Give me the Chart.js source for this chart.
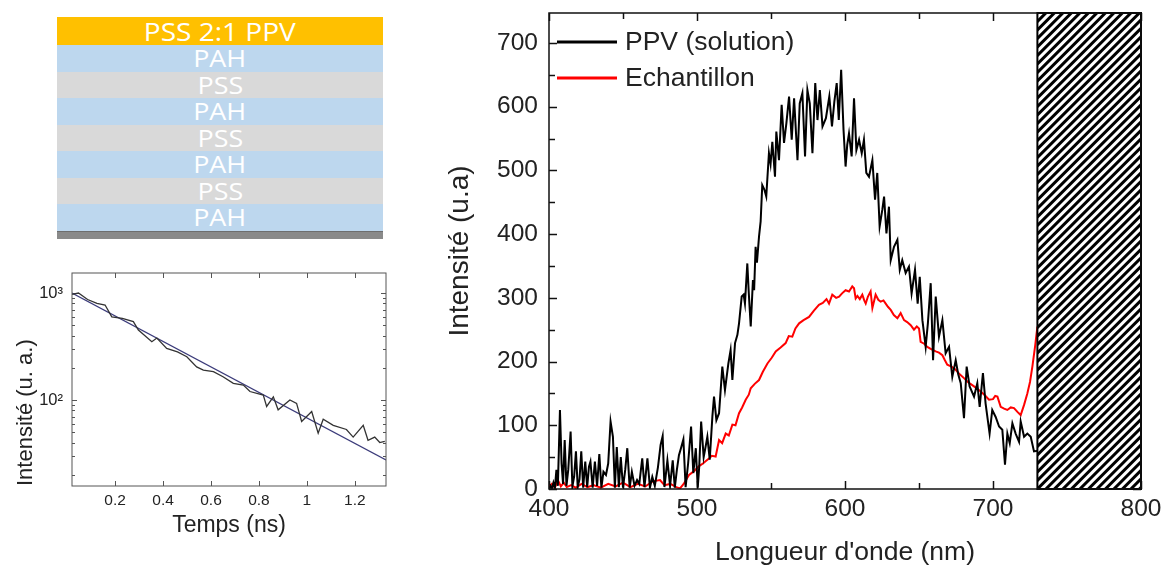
<!DOCTYPE html>
<html>
<head>
<meta charset="utf-8">
<script src="https://cdn.jsdelivr.net/npm/chart.js@4/dist/chart.umd.min.js"></script>
<style>
html,body{margin:0;padding:0;background:#fff;width:1165px;height:569px;overflow:hidden;}
#main{position:absolute;left:400px;top:0;}
#decay{position:absolute;left:0;top:255px;}
#stack{position:absolute;left:57px;top:17px;width:326px;}
.layer{height:26.5px;line-height:26.5px;text-align:center;color:#fff;font-family:"Open Sans",sans-serif;font-size:24px;overflow:visible;}
.layer span{display:inline-block;transform:scaleX(1.12);}
.l-top{background:#FFC000;height:28px;line-height:28px;font-size:25px;}
.l-pah{background:#BDD7EE;}
.l-pss{background:#D9D9D9;}
.l-base{height:7px;background:#8a8a8a;border-top:1px solid #6e6e6e;}
</style>
</head>
<body>
<div id="stack"></div>
<canvas id="decay" width="400" height="314"></canvas>
<canvas id="main" width="765" height="569"></canvas>
<script>
// ---------- Layer stack ----------
const layerNames = ['PSS 2:1 PPV','PAH','PSS','PAH','PSS','PAH','PSS','PAH'];

// ---------- Main spectrum data ----------
const ppvWl = [400,401,402,403,404,405,406,407.4,408.5,409.5,410.6,411.8,413,414.6,415.8,417,418.2,419.4,420.6,421.8,423.1,424.5,425.8,427,428,429.5,431,432.5,434,435.4,436.8,438.5,440,441.6,443.2,444.5,445.8,447.2,448.5,450,451.5,452.9,454.5,456,457.8,459.5,461,463,464.5,466.5,468.2,469.8,471.5,473.6,475.4,476.8,478,480,481.8,483.6,485,486.4,487.8,489.4,490.8,492.3,494,496,497.5,499.2,500.5,501.5,502.8,504.5,505.4,507,508.6,510.4,511.5,513.1,514.9,517.1,518.9,521.2,522.7,523.9,525.7,527.3,528.4,530.2,531.5,532.4,534,535,536.3,537.8,538.6,539.6,540.5,541.9,543,544.1,545.5,546.8,548.6,549.7,550.9,552.7,553.6,555.4,557.2,558.8,560.4,562.2,564,565.6,567.9,569.4,571.2,573,574.6,576.2,578,579.9,581.4,583,584.8,587.1,589.4,591.2,592.8,594.4,595.8,597.4,599,600.4,601.5,602.7,604.5,606.1,607.7,609.5,611.3,612.8,614.4,616.2,618.5,620.3,621.8,623.4,625.2,626.4,628,629.7,630.9,633.1,635.4,637,638.7,641,643.2,645,647.3,649.1,650.5,652.3,654.5,656,657.9,659.5,661.3,663.5,665.8,668,670.3,672.5,674.8,676.5,678.2,680.4,682.2,684.2,687.2,689.4,691,693.2,695,697.7,699.5,701.8,704.1,706.3,708.1,709.7,711.3,713.1,715.3,717.6,718.7,721,723.2,725.5,727.7,730];
const ppvInt = [0,5,0,10,2,30,5,124,40,8,77,5,30,90,4,20,59,3,15,59,2,43,3,35,43,2,43,5,55,2,27,22,40,106,82,2,66,3,50,2,30,64,2,27,5,14,8,48,3,48,2,19,5,34,69,83,3,45,5,45,2,30,53,66,78,3,40,98,25,64,2,35,106,50,61,82,46,114,145,108,119,192,155,197,218,171,229,242,260,302,305,291,354,307,255,328,312,380,355,396,420,477,470,459,527,510,545,490,561,516,603,543,574,616,548,613,516,605,621,522,626,605,527,637,579,626,569,582,616,569,608,637,579,658,564,506,540,558,522,613,532,548,527,548,496,490,516,454,496,412,438,459,401,443,359,380,391,344,359,339,349,307,344,291,333,265,223,260,323,202,302,239,265,213,223,176,202,180,166,111,192,161,145,166,129,182,134,87,124,113,98,93,38,87,72,103,87,74,106,82,87,82,59,60];

const echWl = [400,402,404,406,408,410,412,415,418,422,426,430,435,440,445,450,455,460,465,470,475,478,482,486,488.5,491,494.6,498,501.4,504,506,508.1,510,512.6,514.9,517,519.4,521.5,523.9,526,528.4,530.5,532.9,535,536.3,539,541.9,544.5,547.6,550.5,553.2,556.5,559.9,562,564.4,566.5,569,572,575.7,579,582.4,585,587.5,589.2,591.4,594,596,598,600.4,602.7,604.9,606.1,607.2,608.4,610,611.7,613,614,615.5,617.3,618.5,620.7,622.5,624.1,626,627.5,629,630.9,633,635.4,637.6,639.9,642,644.4,646.6,648.5,650,651.1,653.5,655.6,658.5,661.3,663.5,665.8,667.5,669.1,672,674.8,677.5,680.4,683,686,689,691.7,694.5,697.3,700,701.5,703,705.2,707.5,709.7,712,714.2,716.5,718.7,721,723.2,725,726.6,728.5,730];
const echInt = [3,8,2,14,4,10,3,6,2,8,3,6,2,8,4,10,3,8,4,12,14,6,8,3,1,8,22,28,36,40,44,48,52,51,77,72,87,84,101,100,119,128,140,148,158,165,171,184,197,206,216,222,229,240,239,252,260,265,270,280,289,292,298,291,305,300,302,307,312,310,318,315,299,303,298,305,296,291,302,310,284,305,297,294,296,291,286,281,273,268,276,265,262,257,250,255,252,231,228,223,219,216,214,210,202,195,192,187,180,174,168,163,158,153,147,140,141,146,145,129,126,124,128,127,121,116,132,150,168,192,225,255];

const mainXTicks = [400,450,500,550,600,650,700,750,800];
const mainYTicks = [0,50,100,150,200,250,300,350,400,450,500,550,600,650,700];
const hatchRange = [730,800];

// ---------- Decay (inset) data ----------
const decayT = [0.019,0.047,0.085,0.124,0.158,0.186,0.23,0.276,0.297,0.353,0.374,0.415,0.46,0.499,0.54,0.568,0.61,0.65,0.693,0.735,0.7625,0.818,0.832,0.86,0.88,0.929,0.957,0.978,1.02,1.047,1.068,1.11,1.165,1.193,1.235,1.255,1.283,1.304,1.325];
const decayI = [970,1000,870,800,773,600,580,540,451,351,380,304,282,254,204,190,184,165,143,138,120,111,87,107,81,100,93,63,78,49,66,58,53,45,58,42,45,40,41];
const fitT = [0.02,1.33];
const fitI = [1000,27.5];
const decayXTicks = [0.2,0.4,0.6,0.8,1,1.2];
const decayYTicks = [20,30,40,50,60,70,80,90,100,200,300,400,500,600,700,800,900,1000];

// ---------- build layer stack ----------
const stack = document.getElementById('stack');
layerNames.forEach((n,i)=>{
  const d = document.createElement('div');
  d.className = 'layer ' + (i===0 ? 'l-top' : (n==='PAH' ? 'l-pah' : 'l-pss'));
  const s = document.createElement('span'); s.textContent = n; d.appendChild(s);
  stack.appendChild(d);
});
const base = document.createElement('div'); base.className='l-base'; stack.appendChild(base);

// ---------- plugins ----------
function seg(ctx,x1,y1,x2,y2){ctx.beginPath();ctx.moveTo(x1,y1);ctx.lineTo(x2,y2);ctx.stroke();}
function noPad(s){s.paddingTop=0;s.paddingBottom=0;s.paddingLeft=0;s.paddingRight=0;}
const inTicks = {
  id:'inTicks',
  beforeDatasetsDraw(chart,args,o){
    const {ctx,chartArea:a} = chart; const xs=chart.scales.x, ys=chart.scales.y;
    ctx.save(); ctx.strokeStyle=o.color; ctx.lineWidth=o.width;
    xs.ticks.forEach(t=>{const p=Math.round(xs.getPixelForValue(t.value))+0.5; const L=t.label!==''?o.major:o.minor;
      seg(ctx,p,a.bottom,p,a.bottom-L); seg(ctx,p,a.top,p,a.top+L);});
    ys.ticks.forEach(t=>{const p=Math.round(ys.getPixelForValue(t.value))+0.5; const L=t.label!==''?o.major:o.minor;
      seg(ctx,a.left,p,a.left+L,p); seg(ctx,a.right,p,a.right-L,p);});
    ctx.restore();
  },
  afterDraw(chart,args,o){
    const {ctx,chartArea:a} = chart;
    ctx.save(); ctx.strokeStyle=o.color; ctx.lineWidth=o.width;
    ctx.strokeRect(a.left,a.top,a.right-a.left,a.bottom-a.top); ctx.restore();
  }
};
const hatch = {
  id:'hatch',
  afterDatasetsDraw(chart,args,o){
    if(!o.range) return;
    const {ctx,chartArea:a} = chart; const xs=chart.scales.x;
    const x1=xs.getPixelForValue(o.range[0]), x2=xs.getPixelForValue(o.range[1]);
    const H=a.bottom-a.top;
    ctx.save();
    ctx.fillStyle='#fff'; ctx.fillRect(x1,a.top,x2-x1,H);
    ctx.beginPath(); ctx.rect(x1,a.top,x2-x1,H); ctx.clip();
    ctx.strokeStyle='#000'; ctx.lineWidth=3;
    for(let x=x1-H; x<x2+10; x+=8.5){ seg(ctx,x,a.bottom,x+H,a.top); }
    ctx.restore();
    ctx.save(); ctx.strokeStyle='#000'; ctx.lineWidth=2;
    ctx.strokeRect(x1,a.top,x2-x1,H); ctx.restore();
  }
};
const inLegend = {
  id:'inLegend',
  afterDraw(chart,args,o){
    if(!o.show) return;
    const {ctx} = chart;
    ctx.save(); ctx.font=o.font; ctx.textBaseline='middle'; ctx.fillStyle=o.textColor;
    chart.data.datasets.forEach((ds,i)=>{
      const y=o.y0+i*o.dy;
      ctx.strokeStyle=ds.borderColor; ctx.lineWidth=3; seg(ctx,o.x0,y,o.x0+o.len,y);
      ctx.fillText(ds.label,o.x0+o.len+o.gap,y+1);
    });
    ctx.restore();
  }
};

const SANS = '"Liberation Sans", Arial, sans-serif';

// ---------- main chart ----------
new Chart(document.getElementById('main'),{
  type:'line',
  data:{datasets:[
    {label:'PPV (solution)',data:ppvWl.map((x,i)=>({x,y:ppvInt[i]})),borderColor:'#000',borderWidth:2,pointRadius:0,tension:0},
    {label:'Echantillon',data:echWl.map((x,i)=>({x,y:echInt[i]})),borderColor:'#ff0000',borderWidth:2,pointRadius:0,tension:0}
  ]},
  options:{
    responsive:false,animation:false,events:[],
    layout:{padding:{left:0,top:13,right:24,bottom:0}},
    plugins:{legend:{display:false},tooltip:{enabled:false},
      inTicks:{color:'#111',width:1.5,major:8,minor:6},
      hatch:{range:hatchRange},
      inLegend:{show:true,x0:157,y0:42,dy:36,len:60,gap:8,font:'26.5px '+SANS,textColor:'#222'}},
    scales:{
      x:{type:'linear',min:400,max:800,
        afterBuildTicks:s=>{s.ticks=mainXTicks.map(v=>({value:v}));},
        afterFit:s=>{s.height=80;noPad(s);},
        ticks:{autoSkip:false,maxRotation:0,padding:6,color:'#222',font:{family:SANS,size:24.5},callback:v=>v%100===0?String(v):''},
        grid:{display:false,drawTicks:false},border:{display:false},
        title:{display:true,text:"Longueur d'onde (nm)",color:'#222',font:{family:SANS,size:26.5},padding:{top:0,bottom:0}}},
      y:{type:'linear',min:0,max:747,
        afterBuildTicks:s=>{s.ticks=mainYTicks.map(v=>({value:v}));},
        afterFit:s=>{s.width=149;noPad(s);},
        ticks:{autoSkip:false,padding:11,color:'#222',font:{family:SANS,size:24.5},callback:v=>v%100===0?String(v):''},
        grid:{display:false,drawTicks:false},border:{display:false},
        title:{display:true,text:'Intensité (u.a)',color:'#222',font:{family:SANS,size:28},padding:{top:43,bottom:0}}}
    }
  },
  plugins:[inTicks,hatch,inLegend]
});

// ---------- decay inset ----------
new Chart(document.getElementById('decay'),{
  type:'line',
  data:{datasets:[
    {label:'mesure',data:decayT.map((x,i)=>({x,y:decayI[i]})),borderColor:'#333',borderWidth:1.3,pointRadius:0,tension:0},
    {label:'ajustement',data:fitT.map((x,i)=>({x,y:fitI[i]})),borderColor:'#3b3b7a',borderWidth:1.3,pointRadius:0,tension:0}
  ]},
  options:{
    responsive:false,animation:false,events:[],
    layout:{padding:{left:0,top:18,right:14,bottom:0}},
    plugins:{legend:{display:false},tooltip:{enabled:false},
      inTicks:{color:'#555',width:1,major:5,minor:3}},
    scales:{
      x:{type:'linear',min:0.02,max:1.33,
        afterBuildTicks:s=>{s.ticks=decayXTicks.map(v=>({value:v}));},
        afterFit:s=>{s.height=83;noPad(s);},
        ticks:{autoSkip:false,maxRotation:0,padding:5,color:'#222',font:{family:SANS,size:15.5},callback:v=>String(v)},
        grid:{display:false,drawTicks:false},border:{display:false},
        title:{display:true,text:'Temps (ns)',color:'#222',font:{family:SANS,size:23},padding:{top:0,bottom:30}}},
      y:{type:'logarithmic',min:15.7,max:1540,
        afterBuildTicks:s=>{s.ticks=decayYTicks.map(v=>({value:v}));},
        afterFit:s=>{s.width=72;noPad(s);},
        ticks:{autoSkip:false,padding:9,color:'#222',font:{family:SANS,size:16.5},callback:v=>v===100?'10²':(v===1000?'10³':'')},
        grid:{display:false,drawTicks:false},border:{display:false},
        title:{display:true,text:'Intensité (u. a.)',align:'start',color:'#222',font:{family:SANS,size:22},padding:{top:13,bottom:0}}}
    }
  },
  plugins:[inTicks]
});
</script>
</body>
</html>
